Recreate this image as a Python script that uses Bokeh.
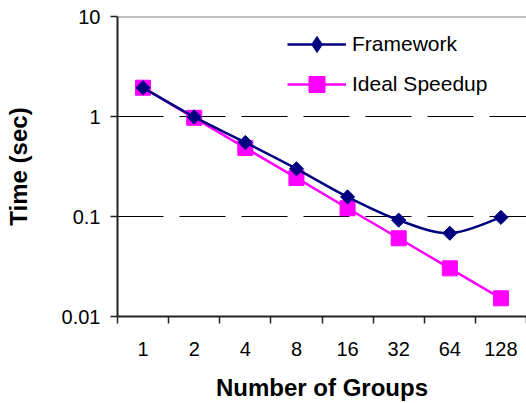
import numpy as np
from bokeh.plotting import figure
from bokeh.models import (Range1d, FixedTicker, CustomJSTickFormatter, Span,
                          Legend, LegendItem)
from bokeh.embed import file_html
from bokeh.resources import INLINE

# ---- data ----
groups = ["1", "2", "4", "8", "16", "32", "64", "128"]
framework = [1.94, 0.99, 0.55, 0.30, 0.157, 0.092, 0.068, 0.098]
ideal = [1.94, 0.97, 0.485, 0.243, 0.121, 0.0606, 0.0303, 0.0152]
y_ticks = [0.01, 0.1, 1, 10]
y_tick_labels = ["0.01", "0.1", "1", "10"]

FONT = "Liberation Sans"
NAVY = "#000080"
MAGENTA = "#FF00FF"

n = len(groups)
xs = [i + 0.5 for i in range(n)]

p = figure(width=526, height=403, x_range=Range1d(0, n), y_range=Range1d(0.01, 10),
           y_axis_type="log", output_backend="svg", toolbar_location=None,
           min_border_left=117, min_border_right=0, min_border_top=16,
           min_border_bottom=84)
p.outline_line_color = None
p.background_fill_color = "white"
p.border_fill_color = "white"

# ---- smoothed Framework line (Catmull-Rom -> Bezier in log space) ----
ly = np.log10(np.array(framework))
X = np.array(xs)
x0, y0, x1, y1, cx0, cy0, cx1, cy1 = [], [], [], [], [], [], [], []
for i in range(n - 1):
    ip = max(i - 1, 0)
    inx = min(i + 2, n - 1)
    x0.append(X[i]); y0.append(10 ** ly[i])
    x1.append(X[i + 1]); y1.append(10 ** ly[i + 1])
    cx0.append(X[i] + (X[i + 1] - X[ip]) / 6.0)
    cy0.append(10 ** (ly[i] + (ly[i + 1] - ly[ip]) / 6.0))
    cx1.append(X[i + 1] - (X[inx] - X[i]) / 6.0)
    cy1.append(10 ** (ly[i + 1] - (ly[inx] - ly[i]) / 6.0))

ideal_line = p.line(xs, ideal, line_color=MAGENTA, line_width=2.5)
ideal_pts = p.scatter(xs, ideal, marker="square", size=15,
                      fill_color=MAGENTA, line_color=MAGENTA)
fw_line = p.bezier(x0=x0, y0=y0, x1=x1, y1=y1, cx0=cx0, cy0=cy0, cx1=cx1, cy1=cy1,
                   line_color=NAVY, line_width=2.5)
fw_pts = p.scatter(xs, framework, marker="square", angle=np.pi / 4, size=10,
                   fill_color=NAVY, line_color=NAVY)
# legend-only marker (legend draws markers unrotated)
fw_key = p.scatter(xs, framework, marker="diamond", size=16,
                   fill_color=NAVY, line_color=NAVY, visible=False)

# ---- top border line ----
p.add_layout(Span(location=10, dimension="width", line_color="#808080", line_width=2))

# ---- grid ----
p.xgrid.visible = False
p.ygrid.ticker = FixedTicker(ticks=y_ticks)
p.ygrid.grid_line_color = "black"
p.ygrid.grid_line_width = 1
p.ygrid.grid_line_dash = "46 16"

# ---- y axis ----
ya = p.yaxis[0]
ya.ticker = FixedTicker(ticks=y_ticks, minor_ticks=[])
ya.formatter = CustomJSTickFormatter(
    args=dict(vals=y_ticks, labels=y_tick_labels),
    code="""
    for (let i = 0; i < vals.length; i++) {
        if (Math.abs(Math.log10(vals[i] / tick)) < 1e-6) return labels[i];
    }
    return "";
    """)
ya.axis_line_color = "#222222"
ya.axis_line_width = 2
ya.major_tick_line_color = "#222222"
ya.major_tick_line_width = 1.5
ya.major_tick_out = 7
ya.major_tick_in = 0
ya.minor_tick_out = 0
ya.minor_tick_in = 0
ya.major_label_standoff = 10
ya.major_label_text_font = FONT
ya.major_label_text_font_size = "20px"
ya.major_label_text_color = "black"
ya.axis_label = "Time (sec)"
ya.axis_label_text_font = FONT
ya.axis_label_text_font_style = "bold"
ya.axis_label_text_font_size = "24px"
ya.axis_label_text_color = "black"
ya.axis_label_standoff = 27

# ---- x axis ----
xa = p.xaxis[0]
xa.ticker = FixedTicker(ticks=xs, minor_ticks=list(range(n + 1)))
xa.formatter = CustomJSTickFormatter(
    args=dict(labels=groups),
    code="return labels[Math.round(tick - 0.5)];")
xa.axis_line_color = "#222222"
xa.axis_line_width = 2
xa.major_tick_out = 0
xa.major_tick_in = 0
xa.minor_tick_out = 7
xa.minor_tick_in = 0
xa.minor_tick_line_color = "#222222"
xa.minor_tick_line_width = 1.5
xa.major_label_standoff = 18
xa.major_label_text_font = FONT
xa.major_label_text_font_size = "20px"
xa.major_label_text_color = "black"
xa.axis_label = "Number of Groups"
xa.axis_label_text_font = FONT
xa.axis_label_text_font_style = "bold"
xa.axis_label_text_font_size = "24px"
xa.axis_label_text_color = "black"
xa.axis_label_standoff = 15

# ---- legend ----
legend = Legend(items=[
    LegendItem(label="Framework", renderers=[fw_line, fw_key]),
    LegendItem(label="Ideal Speedup", renderers=[ideal_line, ideal_pts]),
], location=(170, 212))
legend.border_line_color = None
legend.background_fill_alpha = 0
legend.padding = 0
legend.margin = 0
legend.glyph_width = 59
legend.glyph_height = 40
legend.label_height = 40
legend.label_standoff = 6
legend.spacing = -2
legend.label_text_font = FONT
legend.label_text_font_size = "21px"
legend.label_text_color = "black"
p.add_layout(legend)

open("out.html", "w").write(file_html(p, INLINE))
